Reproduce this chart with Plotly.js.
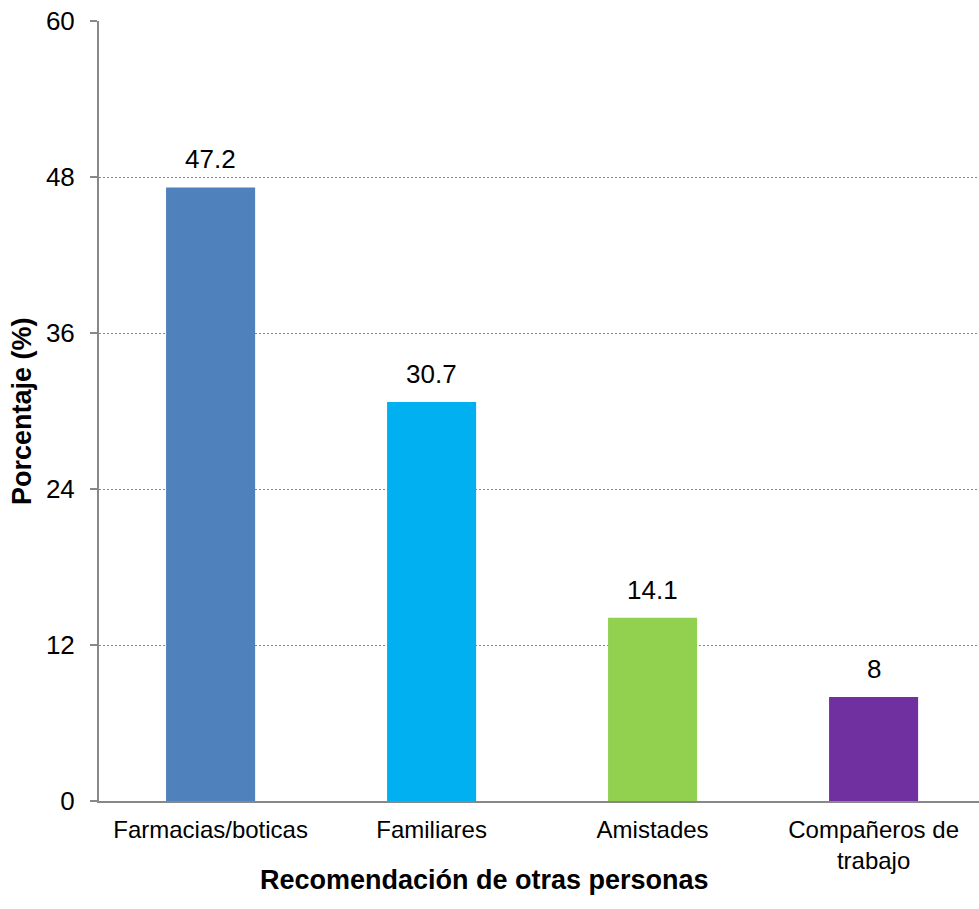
<!DOCTYPE html>
<html>
<head>
<meta charset="utf-8">
<script src="https://cdn.plot.ly/plotly-3.0.1.min.js"></script>
<style>
  html, body { margin: 0; padding: 0; background: #fff; }
  #chart { width: 979px; height: 909px; }
</style>
</head>
<body>
<div id="chart"></div>
<script>
// Categorías y porcentajes
const categorias = ["Farmacias/boticas", "Familiares", "Amistades", "Compañeros de<br>trabajo"];
const porcentajes = [47.2, 30.7, 14.1, 8];
const colores = ["#4F81BD", "#00B0F0", "#92D050", "#7030A0"];
const ticksY = [0, 12, 24, 36, 48, 60];
const tituloX = "Recomendación de otras personas";
const tituloY = "Porcentaje (%)";

const fontFamily = "Liberation Sans, Arial, sans-serif";

const trace = {
  type: "bar",
  x: categorias,
  y: porcentajes,
  width: 0.403,
  marker: { color: colores, line: { width: 0 } },
  hoverinfo: "x+y"
};

// Etiquetas de valor sobre cada barra
const etiquetas = categorias.map((c, i) => ({
  x: c,
  y: porcentajes[i],
  xref: "x",
  yref: "y",
  text: String(porcentajes[i]),
  showarrow: false,
  yanchor: "bottom",
  yshift: 11,
  font: { family: fontFamily, size: 26, color: "#000" }
}));

// Títulos de los ejes
const titulos = [
  {
    text: "<b>" + tituloX + "</b>",
    xref: "paper", yref: "paper",
    x: 0.4375, y: -0.1013,
    xanchor: "center", yanchor: "middle",
    showarrow: false,
    font: { family: fontFamily, size: 27, color: "#000" }
  },
  {
    text: "<b>" + tituloY + "</b>",
    xref: "paper", yref: "paper",
    x: -0.0875, y: 0.5,
    xanchor: "center", yanchor: "middle",
    textangle: -90,
    showarrow: false,
    font: { family: fontFamily, size: 27, color: "#000" }
  }
];

const layout = {
  width: 979,
  height: 909,
  margin: { l: 99, r: 0, t: 21, b: 108 },
  paper_bgcolor: "#fff",
  plot_bgcolor: "#fff",
  showlegend: false,
  font: { family: fontFamily, color: "#000" },
  xaxis: {
    type: "category",
    range: [-0.505, 3.477],
    showline: true,
    linecolor: "#888",
    linewidth: 2,
    ticks: "",
    showgrid: false,
    tickfont: { family: fontFamily, size: 24, color: "#000" },
    ticklabelstandoff: 6
  },
  yaxis: {
    range: [0, 60],
    tickvals: ticksY,
    ticktext: ticksY.map(String),
    showline: true,
    linecolor: "#888",
    linewidth: 2,
    ticks: "outside",
    ticklen: 7,
    tickwidth: 2,
    tickcolor: "#888",
    showgrid: true,
    gridcolor: "#888",
    gridwidth: 1,
    griddash: "2px,2px",
    zeroline: false,
    tickfont: { family: fontFamily, size: 26, color: "#000" },
    ticklabelstandoff: 10
  },
  annotations: etiquetas.concat(titulos)
};

Plotly.newPlot("chart", [trace], layout, { displayModeBar: false, staticPlot: true });
</script>
</body>
</html>
